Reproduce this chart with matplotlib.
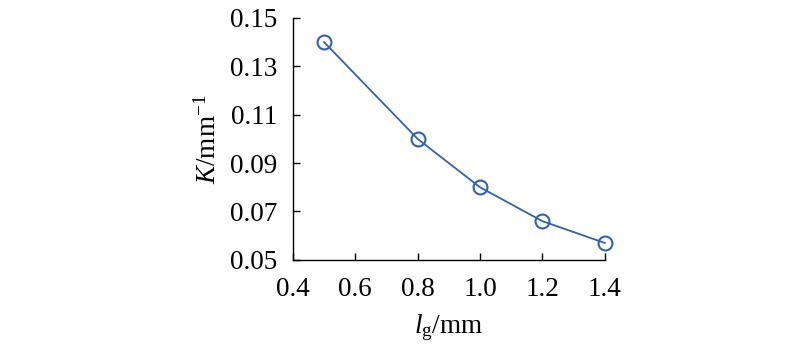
import numpy as np
import matplotlib.pyplot as plt
from matplotlib import font_manager

# gap length (mm) vs K (1/mm)
lg = [0.5, 0.8, 1.0, 1.2, 1.4]
K = [0.140, 0.100, 0.080, 0.066, 0.057]
xticks = [0.4, 0.6, 0.8, 1.0, 1.2, 1.4]
yticks = [0.05, 0.07, 0.09, 0.11, 0.13, 0.15]

# make sure Liberation Serif (Times-like) is registered
for f in font_manager.findSystemFonts():
    if 'LiberationSerif' in f.replace(' ', ''):
        font_manager.fontManager.addfont(f)
names = sorted({f.name for f in font_manager.fontManager.ttflist})
serif = 'Liberation Serif' if 'Liberation Serif' in names else 'DejaVu Serif'

plt.rcParams['font.family'] = [serif, 'DejaVu Serif']
plt.rcParams['mathtext.fontset'] = 'custom'
plt.rcParams['mathtext.rm'] = serif
plt.rcParams['mathtext.it'] = serif + ':italic'

fig = plt.figure(figsize=(8, 3.57), dpi=100)
ax = fig.add_axes([0.366, 0.272, 0.39, 0.678])

col = '#2f62b0'
ax.plot(lg, K, color=col, lw=1.3, marker='o', ms=10, mfc='none', mec=col, mew=1.5, clip_on=False)

ax.set_xlim(0.4, 1.4)
ax.set_ylim(0.05, 0.15)
ax.set_xticks(xticks)
ax.set_xticklabels(['%.1f' % v for v in xticks])
ax.set_yticks(yticks)
ax.set_yticklabels(['%.2f' % v for v in yticks])
ax.tick_params(direction='in', length=5, width=1, labelsize=19.5)
ax.tick_params(axis='x', pad=12)
ax.tick_params(axis='y', pad=11)
for s in ['top', 'right']:
    ax.spines[s].set_visible(False)
for s in ['left', 'bottom']:
    ax.spines[s].set_linewidth(1)

ax.set_xlabel(r'$l_{\mathrm{g}}$/mm', fontsize=19.5, labelpad=8)
ax.set_ylabel(r'$K$/mm$^{-1}$', fontsize=19.5, labelpad=6)

fig.savefig('out.png', dpi=100)
